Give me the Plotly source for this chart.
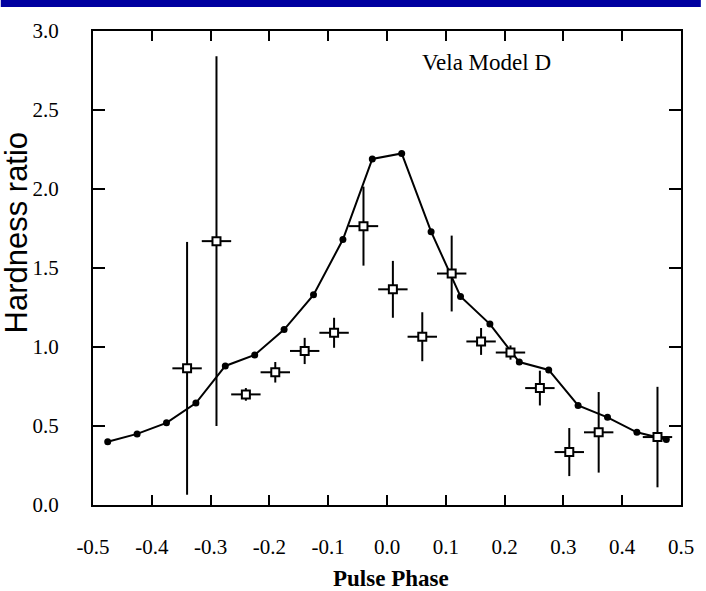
import plotly.graph_objects as go

# Model curve (filled dots)
model_phase = [-0.475, -0.425, -0.375, -0.325, -0.275, -0.225, -0.175, -0.125, -0.075, -0.025,
               0.025, 0.075, 0.125, 0.175, 0.225, 0.275, 0.325, 0.375, 0.425, 0.475]
model_ratio = [0.40, 0.45, 0.52, 0.645, 0.88, 0.95, 1.11, 1.33, 1.68, 2.19,
               2.225, 1.73, 1.32, 1.145, 0.905, 0.855, 0.63, 0.555, 0.46, 0.415]

# Observed data (open squares with error bars)
obs_phase = [-0.34, -0.29, -0.24, -0.19, -0.14, -0.09, -0.04, 0.01, 0.06, 0.11,
             0.16, 0.21, 0.26, 0.31, 0.36, 0.46]
obs_ratio = [0.865, 1.67, 0.70, 0.84, 0.975, 1.09, 1.765, 1.365, 1.065, 1.465,
             1.035, 0.965, 0.74, 0.335, 0.46, 0.43]
obs_err = [0.80, 1.17, 0.04, 0.065, 0.083, 0.095, 0.25, 0.18, 0.155, 0.24,
           0.085, 0.045, 0.11, 0.152, 0.255, 0.318]
obs_xerr = [0.025] * 16

x_ticks = [-0.5, -0.4, -0.3, -0.2, -0.1, 0.0, 0.1, 0.2, 0.3, 0.4, 0.5]
x_ticktext = ["-0.5", "-0.4", "-0.3", "-0.2", "-0.1", "0.0", "0.1", "0.2", "0.3", "0.4", "0.5"]
y_ticks = [0.0, 0.5, 1.0, 1.5, 2.0, 2.5, 3.0]
y_ticktext = ["0.0", "0.5", "1.0", "1.5", "2.0", "2.5", "3.0"]

serif = "Liberation Serif"

fig = go.Figure()
fig.add_trace(go.Scatter(
    x=model_phase, y=model_ratio, mode="lines+markers",
    line=dict(color="black", width=2),
    marker=dict(symbol="circle", size=7, color="black"),
    showlegend=False, cliponaxis=False))
fig.add_trace(go.Scatter(
    x=obs_phase, y=obs_ratio, mode="markers",
    marker=dict(symbol="square", size=8, color="white", line=dict(color="black", width=2)),
    error_y=dict(type="data", array=obs_err, color="black", thickness=2, width=0),
    error_x=dict(type="data", array=obs_xerr, color="black", thickness=2, width=0),
    showlegend=False, cliponaxis=False))

fig.update_layout(
    width=706, height=591,
    margin=dict(l=93, r=20, t=31, b=86),
    paper_bgcolor="white", plot_bgcolor="white",
    font=dict(family=serif, color="black"),
    xaxis=dict(range=[-0.5, 0.5], tickmode="array", tickvals=x_ticks, ticktext=x_ticktext,
               ticks="inside", ticklen=10, tickwidth=2, tickcolor="black",
               showline=True, linecolor="black", linewidth=2, mirror="ticks",
               showgrid=False, zeroline=False, ticklabelstandoff=22,
               tickfont=dict(family=serif, size=21, color="black")),
    yaxis=dict(range=[0, 3.0], tickmode="array", tickvals=y_ticks, ticktext=y_ticktext,
               ticks="inside", ticklen=12, tickwidth=2, tickcolor="black",
               showline=True, linecolor="black", linewidth=2, mirror="ticks",
               showgrid=False, zeroline=False, ticklabelstandoff=28,
               tickfont=dict(family=serif, size=21, color="black")),
    shapes=[dict(type="rect", xref="paper", yref="paper",
                 x0=-93/593, x1=1+20/593, y0=1+24/474, y1=1+31/474,
                 fillcolor="#0000A0", line=dict(width=0), layer="above")],
    annotations=[
        dict(text="Vela Model D", x=0.169, y=2.80, xref="x", yref="y", showarrow=False,
             font=dict(family=serif, size=23, color="black")),
        dict(text="<b>Pulse Phase</b>", x=0.506, y=-0.156, xref="paper", yref="paper",
             showarrow=False, xanchor="center", yanchor="middle",
             font=dict(family=serif, size=23, color="black")),
        dict(text="Hardness ratio", x=-0.130, y=0.574, xref="paper", yref="paper",
             showarrow=False, textangle=-90, xanchor="center", yanchor="middle",
             font=dict(family="Liberation Sans", size=31, color="black")),
    ],
)

fig.write_html("out.html")
